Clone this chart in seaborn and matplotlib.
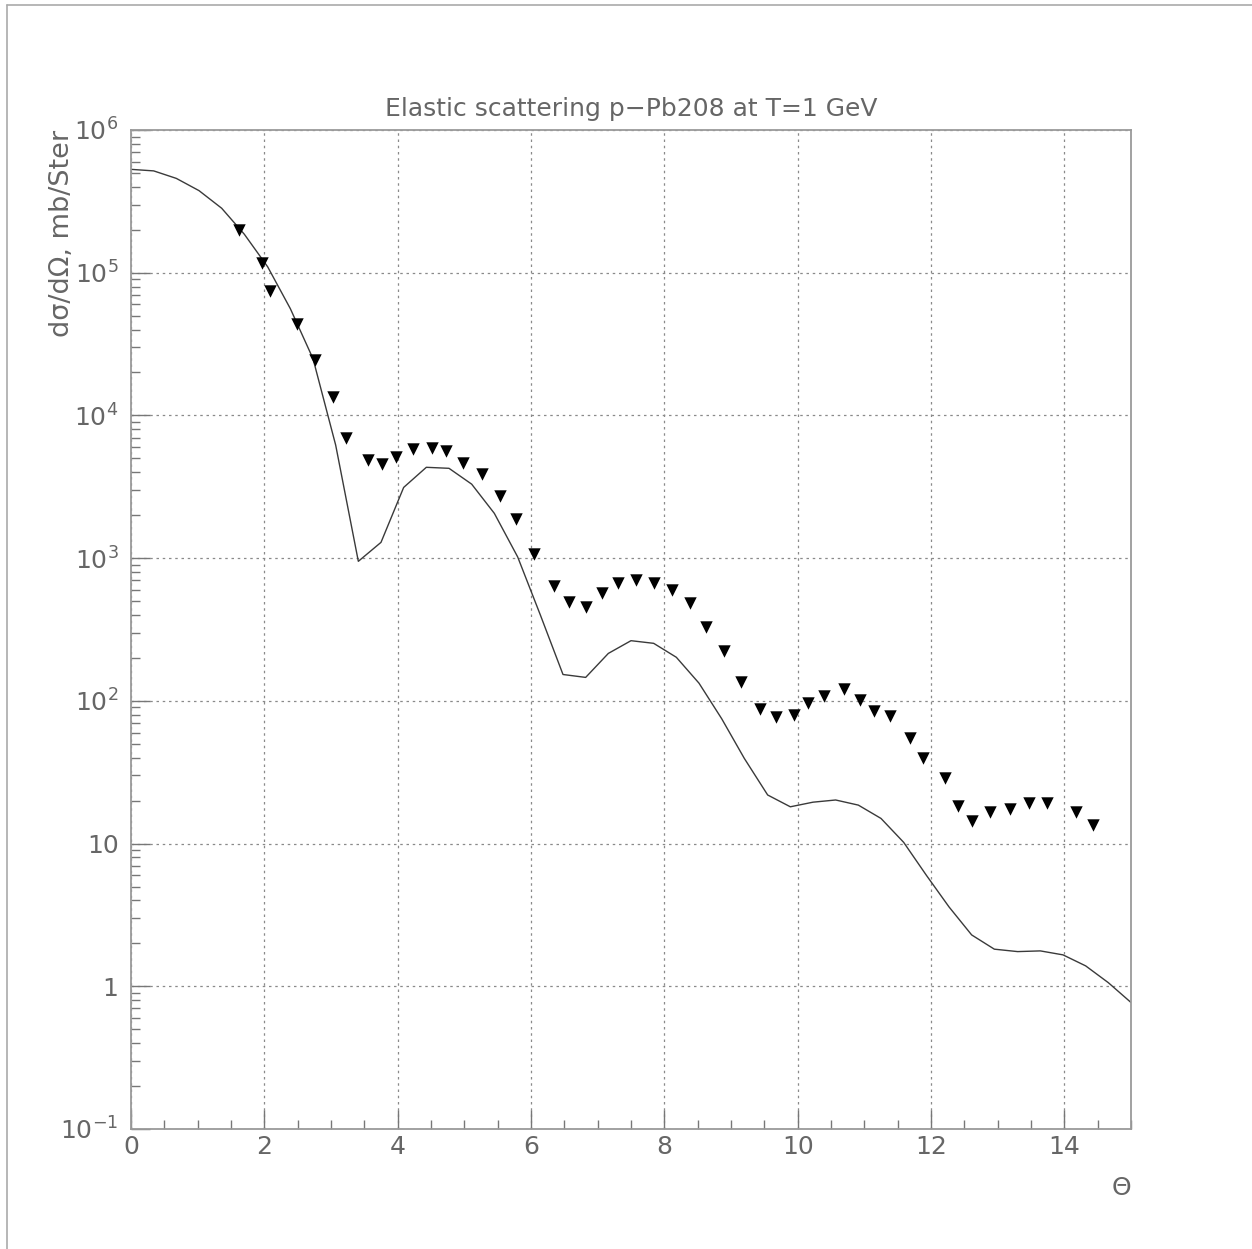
import numpy as np
import pandas as pd
import seaborn as sns
import matplotlib
matplotlib.use("Agg")
import matplotlib.pyplot as plt
from matplotlib.ticker import MultipleLocator, LogLocator, FixedLocator, FixedFormatter, NullFormatter
from matplotlib.lines import Line2D

# ---------------- data ----------------
theory_theta = [0.00, 0.34, 0.68, 1.02, 1.36, 1.70, 2.05, 2.39, 2.73, 3.07,
                3.41, 3.75, 4.09, 4.43, 4.77, 5.11, 5.45, 5.80, 6.14, 6.48,
                6.82, 7.16, 7.50, 7.84, 8.18, 8.52, 8.86, 9.20, 9.55, 9.89,
                10.23, 10.57, 10.91, 11.25, 11.59, 11.93, 12.27, 12.61, 12.95, 13.30,
                13.64, 13.98, 14.32, 14.66, 15.00]
theory_xs = [5.3e5, 5.17e5, 4.58e5, 3.76e5, 2.83e5, 1.86e5, 1.10e5, 5.6e4, 2.5e4, 6.2e3,
             950, 1290, 3130, 4330, 4260, 3300, 2060, 1020, 400, 153,
             146, 215, 264, 253, 202, 133, 75, 39.5, 21.9, 18.1,
             19.5, 20.2, 18.6, 15.0, 10.2, 6.0, 3.6, 2.29, 1.82, 1.75,
             1.77, 1.66, 1.39, 1.06, 0.77]

exp_theta = [1.62, 1.97, 2.08, 2.49, 2.76, 3.03, 3.23, 3.55, 3.76, 3.98,
             4.23, 4.52, 4.73, 4.98, 5.27, 5.54, 5.78, 6.05, 6.35, 6.57,
             6.82, 7.06, 7.30, 7.57, 7.84, 8.11, 8.38, 8.63, 8.90, 9.15,
             9.44, 9.68, 9.95, 10.15, 10.39, 10.69, 10.93, 11.15, 11.39, 11.68,
             11.88, 12.21, 12.40, 12.62, 12.88, 13.19, 13.47, 13.74, 14.17, 14.43]
exp_xs = [1.99e5, 1.17e5, 7.4e4, 4.4e4, 2.45e4, 1.35e4, 7.0e3, 4.87e3, 4.6e3, 5.1e3,
          5.8e3, 5.95e3, 5.6e3, 4.67e3, 3.87e3, 2.74e3, 1.89e3, 1.07e3, 641, 490,
          457, 573, 673, 703, 673, 598, 482, 327, 224, 135,
          87.5, 76.6, 79, 96, 109, 121, 102, 85, 78, 55,
          39.5, 28.9, 18.4, 14.4, 16.7, 17.5, 19.2, 19.2, 16.6, 13.5]

y_tick_values = [1e-1, 1, 10, 1e2, 1e3, 1e4, 1e5, 1e6]
y_tick_labels = [r"$10^{-1}$", "1", "10", r"$10^{2}$", r"$10^{3}$", r"$10^{4}$", r"$10^{5}$", r"$10^{6}$"]
x_tick_values = [0, 2, 4, 6, 8, 10, 12, 14]

title = "Elastic scattering p\u2212Pb208 at T=1 GeV"
ylabel = "d\u03c3/d\u03a9, mb/Ster"
xlabel = "\u0398"

# ---------------- style ----------------
sns.set_style("white")
plt.rcParams["font.family"] = ["DejaVu Sans"]
plt.rcParams["mathtext.fontset"] = "dejavusans"

text_gray = "#666666"
frame_gray = "#9a9a9a"

W, H = 1252, 1249
fig = plt.figure(figsize=(W / 100, H / 100), dpi=100)
ax = fig.add_axes([131 / W, 1 - 1129 / H, 1000 / W, 999 / H])

df_th = pd.DataFrame({"theta": theory_theta, "xs": theory_xs})
df_ex = pd.DataFrame({"theta": exp_theta, "xs": exp_xs})

ax.set_yscale("log")
sns.lineplot(data=df_th, x="theta", y="xs", ax=ax, color="#3a3a3a", lw=1.0, sort=False)
sns.scatterplot(data=df_ex, x="theta", y="xs", ax=ax, marker="v", s=80,
                color="black", linewidth=0, zorder=5)

ax.set_xlim(0, 15)
ax.set_ylim(0.1, 1e6)

# ticks
ax.xaxis.set_major_locator(FixedLocator(x_tick_values))
ax.xaxis.set_minor_locator(MultipleLocator(0.5))
ax.yaxis.set_major_locator(FixedLocator(y_tick_values))
ax.yaxis.set_major_formatter(FixedFormatter(y_tick_labels))
ax.yaxis.set_minor_locator(LogLocator(base=10, subs=np.arange(2, 10), numticks=20))
ax.yaxis.set_minor_formatter(NullFormatter())
ax.set_xticklabels([str(v) for v in x_tick_values])

ax.tick_params(axis="both", which="both", bottom=True, left=True, top=False, right=False)
ax.tick_params(axis="both", which="major", direction="in", length=14, width=1.0,
               color="#777777", labelsize=18, labelcolor=text_gray)
ax.tick_params(axis="both", which="minor", direction="in", length=6.5, width=1.0,
               color="#777777")
ax.tick_params(axis="y", which="major", pad=9)
ax.tick_params(axis="x", which="major", pad=4)

# grid
ax.grid(True, which="major", color="#8a8a8a", linestyle=(0, (2, 3)), linewidth=0.9)
ax.set_axisbelow(True)

for sp in ax.spines.values():
    sp.set_visible(True)
    sp.set_color(frame_gray)
    sp.set_linewidth(1.3)

# labels
ax.set_title(title, fontsize=18, color=text_gray, pad=10)
ax.set_xlabel("")
ax.set_ylabel(ylabel, fontsize=19.5, color=text_gray, loc="top")
ax.yaxis.set_label_coords(-0.056, 1.0)
ax.text((1121 - 131) / 1000, (1129 - 1188) / 999, xlabel, transform=ax.transAxes,
        ha="center", va="center", fontsize=18, color=text_gray)

# outer frame (left and top edges visible)
fig.add_artist(Line2D([7 / W, 7 / W], [0, 1 - 5 / H], transform=fig.transFigure,
                      color="#aaaaaa", lw=1.2))
fig.add_artist(Line2D([7 / W, 1], [1 - 5 / H, 1 - 5 / H], transform=fig.transFigure,
                      color="#aaaaaa", lw=1.2))

fig.savefig("out.png", dpi=100, facecolor="white")
